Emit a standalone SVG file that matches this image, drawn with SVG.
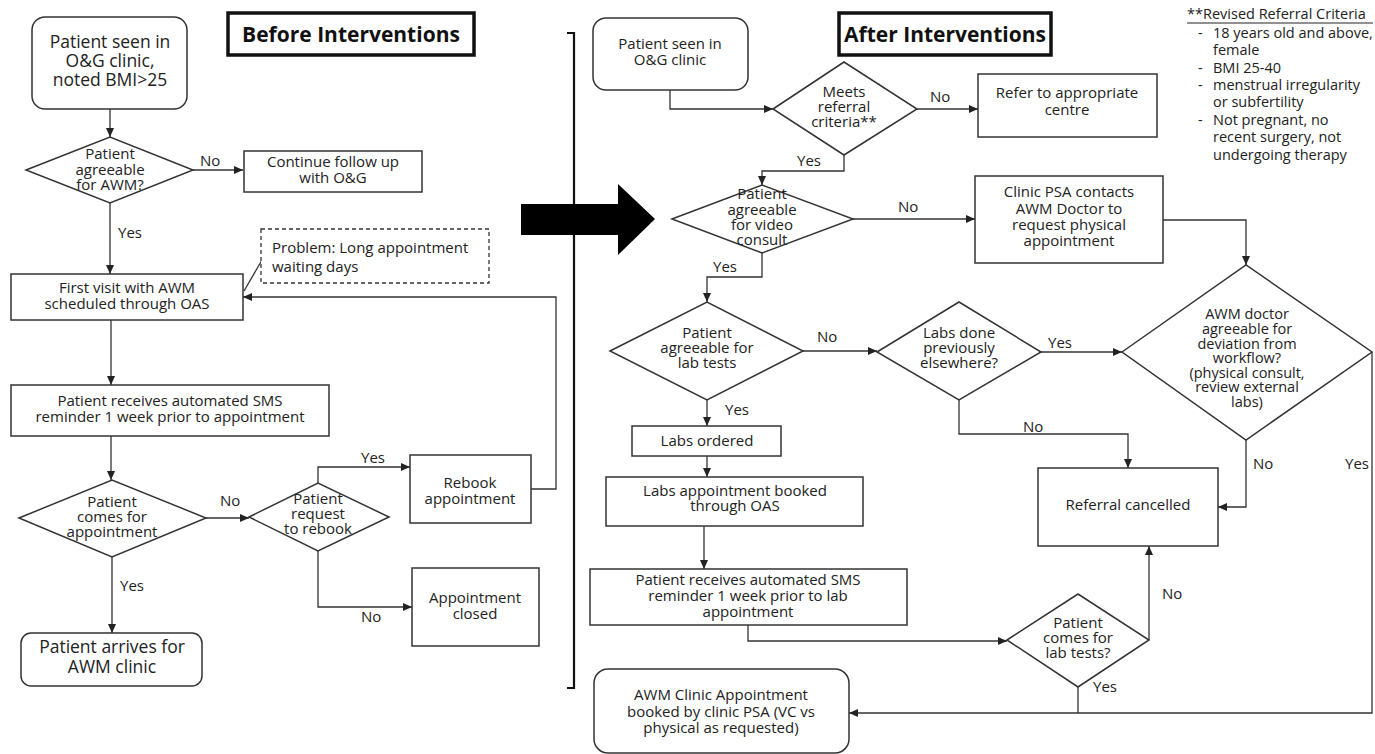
<svg xmlns="http://www.w3.org/2000/svg" width="1375" height="754" viewBox="0 0 1375 754">
<defs>
<marker id="ah" markerUnits="userSpaceOnUse" markerWidth="10" markerHeight="10" refX="9" refY="4" orient="auto">
<path d="M0,0 L9,4 L0,8 z" fill="#222"/>
</marker>
<style>
.bx{fill:#fff;stroke:#333;stroke-width:1.5}
.tb{fill:#fff;stroke:#111;stroke-width:3.5}
.t{font-family:"Open Sans","DejaVu Sans",sans-serif;font-size:15px;fill:#222;text-anchor:middle}
.tl{font-family:"Open Sans","DejaVu Sans",sans-serif;font-size:15px;fill:#222}
.cr{font-family:"Open Sans","DejaVu Sans",sans-serif;font-size:14.5px;fill:#222}
.big{font-size:17.5px}
.ttl{font-family:"Open Sans","DejaVu Sans",sans-serif;font-size:21px;font-weight:bold;fill:#111;text-anchor:middle}
.c{fill:none;stroke:#333;stroke-width:1.3}
.ca{fill:none;stroke:#333;stroke-width:1.3;marker-end:url(#ah)}
</style>
</defs>
<rect width="1375" height="754" fill="#fff"/>

<!-- connectors -->
<g id="connectors">
<path class="ca" d="M110,109 V137"/>
<path class="ca" d="M193,170 H243"/>
<path class="ca" d="M110,203 V274"/>
<path class="ca" d="M111,320 V385"/>
<path class="ca" d="M111,436 V480"/>
<path class="ca" d="M206,518 H249"/>
<path class="ca" d="M318,483 V467 H410"/>
<path class="ca" d="M318,551 V607 H412"/>
<path class="ca" d="M112,557 V633"/>
<path class="ca" d="M531,489 H556 V297 H243"/>
<path class="c" d="M262,260 L244,291"/>

<path class="ca" d="M670,90 V109 H773"/>
<path class="ca" d="M917,109 H978"/>
<path class="ca" d="M844,155 V171 H762 V185"/>
<path class="ca" d="M853,219 H975"/>
<path class="ca" d="M762,253 V277 H707 V302"/>
<path class="ca" d="M1163,220 H1246 V265"/>
<path class="ca" d="M803,351 H877"/>
<path class="ca" d="M1041,352 H1122"/>
<path class="ca" d="M959,400 V434 H1128 V468"/>
<path class="ca" d="M1246,440 V507 H1218"/>
<path class="ca" d="M1372,352 V713 H849"/>
<path class="ca" d="M707,400 V426"/>
<path class="ca" d="M707,456 V477"/>
<path class="ca" d="M704,526 V569"/>
<path class="ca" d="M748,625 V641 H1007"/>
<path class="ca" d="M1149,640 V546"/>
<path class="c" d="M1078,687 V713"/>

<g class="tl">
<text x="200" y="166">No</text>
<text x="118" y="238">Yes</text>
<text x="220" y="506">No</text>
<text x="361" y="463">Yes</text>
<text x="361" y="622">No</text>
<text x="120" y="591">Yes</text>
<text x="930" y="102">No</text>
<text x="797" y="166">Yes</text>
<text x="898" y="212">No</text>
<text x="713" y="272">Yes</text>
<text x="817" y="342">No</text>
<text x="1048" y="348">Yes</text>
<text x="1023" y="432">No</text>
<text x="1253" y="469">No</text>
<text x="1345" y="469">Yes</text>
<text x="725" y="415">Yes</text>
<text x="1162" y="599">No</text>
<text x="1093" y="692">Yes</text>
</g>
</g>

<!-- divider and big arrow -->
<g id="divider">
<path d="M567,33 H574 V688 H567" fill="none" stroke="#111" stroke-width="2.2"/>
<polygon points="521,204 618,204 618,184 655,219 618,255 618,235 521,235" fill="#000"/>
</g>

<!-- LEFT: before -->
<g id="n_start_before">
<rect class="bx" x="32" y="17" width="155" height="92" rx="13"/>
<text class="t big" x="110" y="48">Patient seen in<tspan x="110" dy="19">O&amp;G clinic,</tspan><tspan x="110" dy="19">noted BMI&gt;25</tspan></text>
</g>
<g id="title_before">
<rect class="tb" x="228" y="13" width="246" height="42"/>
<text class="ttl" x="351" y="42">Before Interventions</text>
</g>
<g id="d_agree_awm">
<polygon class="bx" points="26,170 110,137 193,170 110,203"/>
<text class="t" x="110" y="159">Patient<tspan x="110" dy="16">agreeable</tspan><tspan x="110" dy="15">for AWM?</tspan></text>
</g>
<g id="n_continue">
<rect class="bx" x="244" y="151" width="178" height="41"/>
<text class="t" x="333" y="167">Continue follow up<tspan x="333" dy="16">with O&amp;G</tspan></text>
</g>
<g id="n_problem">
<rect x="261" y="229" width="228" height="54" fill="#fff" stroke="#333" stroke-width="1.3" stroke-dasharray="4,3"/>
<text class="tl" x="272" y="253">Problem: Long appointment<tspan x="272" dy="19">waiting days</tspan></text>
</g>
<g id="n_first_visit">
<rect class="bx" x="11" y="274" width="232" height="46"/>
<text class="t" x="127" y="293">First visit with AWM<tspan x="127" dy="16">scheduled through OAS</tspan></text>
</g>
<g id="n_sms">
<rect class="bx" x="11" y="385" width="318" height="51"/>
<text class="t" x="170" y="406">Patient receives automated SMS<tspan x="170" dy="16">reminder 1 week prior to appointment</tspan></text>
</g>
<g id="d_comes">
<polygon class="bx" points="19,518 112,480 206,518 112,557"/>
<text class="t" x="112" y="507">Patient<tspan x="112" dy="15">comes for</tspan><tspan x="112" dy="15">appointment</tspan></text>
</g>
<g id="d_request_rebook">
<polygon class="bx" points="249,517 318,483 389,517 318,551"/>
<text class="t" x="318" y="504">Patient<tspan x="318" dy="15">request</tspan><tspan x="318" dy="15">to rebook</tspan></text>
</g>
<g id="n_rebook">
<rect class="bx" x="410" y="455" width="121" height="68"/>
<text class="t" x="470" y="488">Rebook<tspan x="470" dy="16">appointment</tspan></text>
</g>
<g id="n_closed">
<rect class="bx" x="412" y="568" width="127" height="78"/>
<text class="t" x="475" y="603">Appointment<tspan x="475" dy="16">closed</tspan></text>
</g>
<g id="n_arrives">
<rect class="bx" x="21" y="633" width="181" height="53" rx="10"/>
<text class="t big" x="112" y="653">Patient arrives for<tspan x="112" dy="20">AWM clinic</tspan></text>
</g>

<!-- RIGHT: after -->
<g id="n_start_after">
<rect class="bx" x="593" y="18" width="155" height="72" rx="13"/>
<text class="t" x="670" y="49">Patient seen in<tspan x="670" dy="16">O&amp;G clinic</tspan></text>
</g>
<g id="title_after">
<rect class="tb" x="839" y="13" width="212" height="42"/>
<text class="ttl" x="945" y="42">After Interventions</text>
</g>
<g id="d_meets">
<polygon class="bx" points="773,109 844,62 917,109 844,155"/>
<text class="t" x="844" y="97">Meets<tspan x="844" dy="15">referral</tspan><tspan x="844" dy="15">criteria**</tspan></text>
</g>
<g id="n_refer">
<rect class="bx" x="978" y="74" width="179" height="63"/>
<text class="t" x="1067" y="98">Refer to appropriate<tspan x="1067" dy="17">centre</tspan></text>
</g>
<g id="d_video">
<polygon class="bx" points="672,219 762,185 853,219 762,253"/>
<text class="t" x="762" y="199">Patient<tspan x="762" dy="16">agreeable</tspan><tspan x="762" dy="15">for video</tspan><tspan x="762" dy="15">consult</tspan></text>
</g>
<g id="n_clinic_psa">
<rect class="bx" x="975" y="176" width="188" height="87"/>
<text class="t" x="1069" y="197">Clinic PSA contacts<tspan x="1069" dy="17">AWM Doctor to</tspan><tspan x="1069" dy="16">request physical</tspan><tspan x="1069" dy="16">appointment</tspan></text>
</g>
<g id="d_awm_deviation">
<polygon class="bx" points="1122,352 1246,265 1372,352 1246,440"/>
<text class="t" x="1247" y="319" style="font-size:14.5px">AWM doctor<tspan x="1247" dy="15">agreeable for</tspan><tspan x="1247" dy="14.5">deviation from</tspan><tspan x="1247" dy="14.5">workflow?</tspan><tspan x="1247" dy="14.5">(physical consult,</tspan><tspan x="1247" dy="14.5">review external</tspan><tspan x="1247" dy="14.5">labs)</tspan></text>
</g>
<g id="d_lab_tests">
<polygon class="bx" points="610,351 707,302 803,351 707,400"/>
<text class="t" x="707" y="338">Patient<tspan x="707" dy="15">agreeable for</tspan><tspan x="707" dy="15">lab tests</tspan></text>
</g>
<g id="d_labs_done">
<polygon class="bx" points="877,352 959,302 1041,352 959,400"/>
<text class="t" x="959" y="338">Labs done<tspan x="959" dy="15">previously</tspan><tspan x="959" dy="15">elsewhere?</tspan></text>
</g>
<g id="n_labs_ordered">
<rect class="bx" x="632" y="426" width="149" height="30"/>
<text class="t" x="707" y="446">Labs ordered</text>
</g>
<g id="n_labs_appt">
<rect class="bx" x="606" y="477" width="257" height="49"/>
<text class="t" x="735" y="496">Labs appointment booked<tspan x="735" dy="15">through OAS</tspan></text>
</g>
<g id="n_referral_cancelled">
<rect class="bx" x="1038" y="468" width="180" height="78"/>
<text class="t" x="1128" y="510">Referral cancelled</text>
</g>
<g id="n_sms_lab">
<rect class="bx" x="590" y="569" width="317" height="56"/>
<text class="t" x="748" y="585">Patient receives automated SMS<tspan x="748" dy="16">reminder 1 week prior to lab</tspan><tspan x="748" dy="16">appointment</tspan></text>
</g>
<g id="d_comes_lab">
<polygon class="bx" points="1007,640 1078,594 1149,640 1078,687"/>
<text class="t" x="1078" y="628">Patient<tspan x="1078" dy="15">comes for</tspan><tspan x="1078" dy="15">lab tests?</tspan></text>
</g>
<g id="n_awm_clinic">
<rect class="bx" x="594" y="669" width="255" height="84" rx="14"/>
<text class="t" x="721" y="700">AWM Clinic Appointment<tspan x="721" dy="17">booked by clinic PSA (VC vs</tspan><tspan x="721" dy="16">physical as requested)</tspan></text>
</g>

<g id="criteria">
<text class="cr" x="1187" y="19">**Revised Referral Criteria</text>
<line x1="1187" y1="23" x2="1373" y2="23" stroke="#222" stroke-width="1"/>
<text class="cr" x="1198" y="38">-<tspan x="1198" dy="35">-</tspan><tspan x="1198" dy="17">-</tspan><tspan x="1198" dy="35">-</tspan></text>
<text class="cr" x="1213" y="38">18 years old and above,<tspan x="1213" dy="17.3">female</tspan><tspan x="1213" dy="17.5">BMI 25-40</tspan><tspan x="1213" dy="17.3">menstrual irregularity</tspan><tspan x="1213" dy="17.3">or subfertility</tspan><tspan x="1213" dy="17.5">Not pregnant, no</tspan><tspan x="1213" dy="17.3">recent surgery, not</tspan><tspan x="1213" dy="17.3">undergoing therapy</tspan></text>
</g>
</svg>
